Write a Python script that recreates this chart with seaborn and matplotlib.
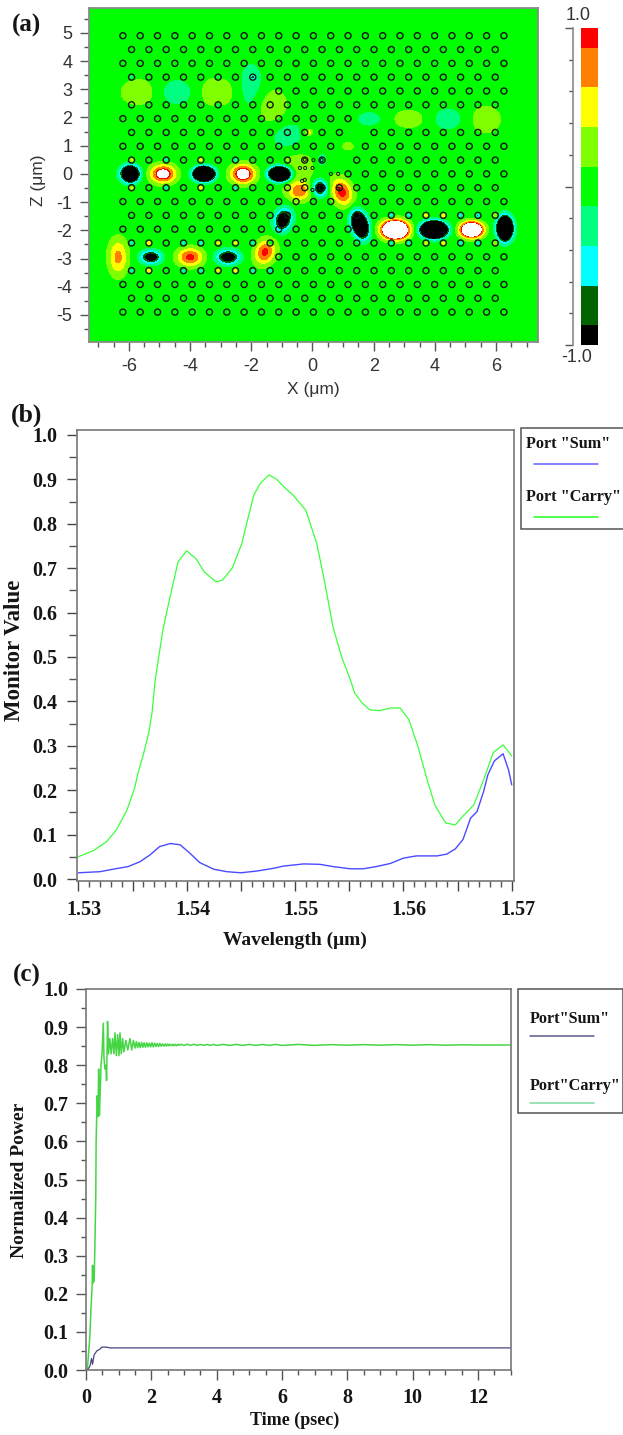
import numpy as np
import matplotlib
matplotlib.use('Agg')
import matplotlib.pyplot as plt
from matplotlib.cm import ScalarMappable
from matplotlib.colors import ListedColormap, BoundaryNorm
from matplotlib.lines import Line2D
from matplotlib.patches import Rectangle
from matplotlib.ticker import MultipleLocator, NullFormatter
from matplotlib.transforms import ScaledTranslation
import seaborn as sns

W, H = 623, 1435

# panel (a): field blobs (um)
blob_x = [-5.96, -4.88, -3.55, -2.27, -1.06, 0.24, 0.96, -0.42, -0.55, 0.3, -0.96,
          1.55, 2.7, 3.97, 5.2, 6.29,
          -6.35, -5.28, -4.0, -2.76, -1.55,
          -5.7, -4.42, -3.12, -2.0, -1.36, -0.8, -0.18,
          1.85, 3.15, 4.43, 5.67, 1.16]
blob_z = [0, 0, 0, 0, 0, -0.5, -0.64, -0.62, 0.2, 0.5, -1.63,
          -1.8, -1.98, -1.98, -1.98, -1.93,
          -2.95, -2.95, -2.95, -2.95, -2.77,
          2.9, 2.9, 2.9, 3.05, 2.38, 1.31, 1.5,
          1.95, 1.95, 1.95, 1.93, 0.98]
blob_amp = [-3, 1.25, -5, 1.3, -4, -1.3, 0.98, 0.75, 0.3, -0.35, -1.5,
            -3, 3, -6, 2.5, -4,
            0.7, -1.3, 0.95, -1.4, 0.95,
            0.3, -0.3, 0.3, -0.3, 0.3, -0.3, 0.2,
            -0.28, 0.28, -0.28, 0.28, 0.18]
blob_sx = [0.19, 0.27, 0.2, 0.26, 0.22, 0.18, 0.22, 0.25, 0.45, 0.12, 0.19,
           0.17, 0.27, 0.24, 0.23, 0.16,
           0.21, 0.23, 0.28, 0.25, 0.22,
           0.42, 0.42, 0.45, 0.33, 0.42, 0.42, 0.12,
           0.31, 0.37, 0.37, 0.37, 0.2]
blob_sz = [0.19, 0.21, 0.155, 0.22, 0.165, 0.2, 0.33, 0.22, 0.55, 0.18, 0.27,
           0.3, 0.2, 0.17, 0.17, 0.26,
           0.43, 0.165, 0.215, 0.175, 0.3,
           0.34, 0.34, 0.38, 0.66, 0.5, 0.45, 0.12,
           0.2, 0.24, 0.3, 0.37, 0.15]
blob_tilt = [0, 0, 0, 0, 0, 0, 20, 0, 0, 0, -15,
             15, 0, 0, 0, 0,
             0, 0, 0, 0, -20,
             0, 0, 0, 0, 10, 0, 0,
             0, 0, 0, 0, 0]

# little coloured dots in the holes next to the guides
spot_x = [-5.913, -5.913, -4.781, -4.781, -3.649, -3.649, -2.517, -2.517,
          2.577, 3.143, 3.709, 4.275, 4.841, 5.407, 5.973,
          2.577, 3.143, 3.709, 4.275, 4.841, 5.407, 5.973,
          -5.913, -5.347, -4.215, -3.649, -3.083, -2.517, -1.951, -1.385,
          -5.913, -5.347, -4.215, -3.649, -3.083, -2.517, -1.951, -1.385,
          -5.913, -3.083, -1.951, -3.083, -0.1]
spot_z = [0.49, -0.49, 0.49, -0.49, 0.49, -0.49, 0.49, -0.49,
          -1.47, -1.47, -1.47, -1.47, -1.47, -1.47, -1.47,
          -2.45, -2.45, -2.45, -2.45, -2.45, -2.45, -2.45,
          -2.45, -2.45, -2.45, -2.45, -2.45, -2.45, -2.45, -2.45,
          -3.43, -3.43, -3.43, -3.43, -3.43, -3.43, -3.43, -3.43,
          3.43, 3.43, 3.43, 2.45, 1.47]
spot_amp = [0.5, 0.5, -0.6, -0.6, 0.5, 0.5, -0.6, -0.6,
            -0.8, -0.6, 0.5, 0.5, -0.6, -0.8, 0.4,
            -0.8, -0.6, 0.5, 0.5, -0.6, -0.8, 0.4,
            -0.6, 0.5, -0.6, -0.6, 0.45, 0.45, -0.6, -0.6,
            -0.6, 0.5, -0.6, -0.6, 0.45, 0.45, -0.6, -0.6,
            -0.5, -0.5, -0.7, -0.5, 0.4]

# photonic crystal holes
row_z = [4.9, 4.41, 3.92, 3.43, 2.94, 2.45, 1.96, 1.47, 0.98, 0.49, 0,
         -0.49, -0.98, -1.47, -1.96, -2.45, -2.94, -3.43, -3.92, -4.41, -4.9]
odd_x = [-6.196, -5.63, -5.064, -4.498, -3.932, -3.366, -2.8, -2.234, -1.668, -1.102,
         -0.536, 0.03, 0.596, 1.162, 1.728, 2.294, 2.86, 3.426, 3.992, 4.558,
         5.124, 5.69, 6.256]
even_x = [-5.913, -5.347, -4.781, -4.215, -3.649, -3.083, -2.517, -1.951, -1.385, -0.819,
          -0.253, 0.313, 0.879, 1.445, 2.011, 2.577, 3.143, 3.709, 4.275, 4.841,
          5.407, 5.973]
small_x = [-0.41, -0.25, -0.34, -0.25, 0.0, 0.6, 0.84, -0.24, 0.03, 0.3, 0.0, 0.84]
small_z = [0.21, 0.5, -0.25, -0.21, 0.21, 0, 0, 0.21, 0.49, 0.49, -0.57, -0.53]
# (row z, from x, to x) stretches with no holes
gap_z = [2.94, 1.96, 0.98, 1.47, 0.49, 0, 0, -0.98, -1.96, -2.94]
gap_from = [-8, 1.3, 1.1, 1.4, 0.8, -8, -0.3, 1.1, 1.3, -8]
gap_to = [-1.2, 8, 1.2, 1.5, 1.0, -0.3, 1.1, 1.2, 8, -1.2]

field_levels = [-1, -0.875, -0.625, -0.375, -0.125, 0.125, 0.375, 0.625, 0.875, 1]
field_colors = ['#000000', '#006400', '#00ffff', '#00ff80', '#00ff00',
                '#80ff00', '#ffff00', '#ff8000', '#ff0000']
a_ticks_x = [-6, -4, -2, 0, 2, 4, 6]
a_ticks_z = [-5, -4, -3, -2, -1, 0, 1, 2, 3, 4, 5]

# panel (b)
carry_wl = [1.5300, 1.5314, 1.5326, 1.5335, 1.5345, 1.5352, 1.5355, 1.5360, 1.5365, 1.5368,
            1.5371, 1.5378, 1.5384, 1.5392, 1.5400, 1.5409, 1.5416, 1.5427, 1.5433, 1.5442,
            1.5451, 1.5455, 1.5462, 1.5468, 1.5476, 1.5483, 1.5491, 1.5498, 1.5510, 1.5517,
            1.5520, 1.5527, 1.5535, 1.5543, 1.5551, 1.5555, 1.5562, 1.5569, 1.5578, 1.5588,
            1.5597, 1.5605, 1.5613, 1.5622, 1.5629, 1.5639, 1.5648, 1.5654, 1.5665, 1.5674,
            1.5683, 1.5692, 1.5700]
carry_val = [0.05, 0.064, 0.084, 0.11, 0.156, 0.205, 0.238, 0.28, 0.329, 0.374,
             0.449, 0.56, 0.628, 0.714, 0.739, 0.72, 0.692, 0.669, 0.673, 0.70,
             0.756, 0.797, 0.865, 0.891, 0.91, 0.90, 0.88, 0.865, 0.83, 0.778,
             0.756, 0.673, 0.568, 0.50, 0.449, 0.419, 0.396, 0.381, 0.379, 0.385,
             0.385, 0.359, 0.302, 0.223, 0.167, 0.126, 0.122, 0.139, 0.167, 0.223,
             0.285, 0.302, 0.277]
sum_wl = [1.5300, 1.5320, 1.5332, 1.5346, 1.5357, 1.5366, 1.5375, 1.5385, 1.5394, 1.5403,
          1.5412, 1.5425, 1.5437, 1.5450, 1.5465, 1.5480, 1.5489, 1.5508, 1.5523, 1.5535,
          1.5551, 1.5563, 1.5575, 1.5588, 1.5600, 1.5612, 1.5631, 1.5640, 1.5648, 1.5655,
          1.5662, 1.5668, 1.5674, 1.5678, 1.5684, 1.5692, 1.5697, 1.5700]
sum_val = [0.014, 0.0165, 0.022, 0.028, 0.039, 0.054, 0.073, 0.08, 0.077, 0.058,
           0.037, 0.022, 0.0165, 0.014, 0.018, 0.024, 0.029, 0.034, 0.033, 0.028,
           0.023, 0.023, 0.028, 0.035, 0.047, 0.052, 0.052, 0.056, 0.068, 0.089,
           0.137, 0.152, 0.197, 0.235, 0.266, 0.282, 0.246, 0.212]
b_ticks_x = [1.53, 1.535, 1.54, 1.545, 1.55, 1.555, 1.56, 1.565, 1.57]
b_labels_x = ['1.53', '', '1.54', '', '1.55', '', '1.56', '', '1.57']
y_ticks = [0.0, 0.1, 0.2, 0.3, 0.4, 0.5, 0.6, 0.7, 0.8, 0.9, 1.0]

# panel (c)
carry_t = [0.04, 0.12, 0.15, 0.19, 0.20, 0.21, 0.22, 0.23, 0.24, 0.25, 0.27, 0.30, 0.31,
           0.33, 0.345, 0.367, 0.387, 0.41, 0.43, 0.46, 0.49, 0.53, 0.55, 0.58, 0.61, 0.63,
           0.66, 0.69, 0.73, 0.77, 0.815, 0.855, 0.887, 0.93, 0.97, 1.01, 1.04, 1.08, 1.12,
           1.16, 1.22, 1.28, 1.345, 1.4, 1.45, 1.5, 1.54, 1.58, 1.62, 1.66, 1.7, 1.74, 1.78,
           1.82, 1.86, 1.9, 1.94, 1.98, 2.02, 2.06, 2.1, 2.14, 2.18, 2.22, 2.26, 2.3, 2.34,
           2.38, 2.42, 2.46, 2.5, 2.54, 2.58, 2.62, 2.66, 2.7, 2.74, 2.78, 2.82, 2.86, 2.9,
           3.0, 3.1, 3.2, 3.3, 3.4, 3.5, 3.6, 3.7, 3.8, 3.9, 4.0, 4.2, 4.4, 4.6, 4.8, 5.0,
           5.2, 5.4, 5.6, 5.8, 6.0, 6.5, 7, 7.5, 8, 8.5, 9, 9.5, 10, 10.5, 11, 11.5, 12, 13]
carry_p = [0, 0.09, 0.157, 0.225, 0.275, 0.228, 0.27, 0.23, 0.265, 0.235, 0.318, 0.46, 0.6,
           0.675, 0.72, 0.665, 0.79, 0.668, 0.72, 0.80, 0.83, 0.91, 0.82, 0.79, 0.80, 0.76,
           0.915, 0.83, 0.87, 0.83, 0.87, 0.83, 0.885, 0.825, 0.88, 0.825, 0.885, 0.83, 0.87,
           0.835, 0.865, 0.84, 0.87, 0.84, 0.865, 0.845, 0.862, 0.846, 0.86, 0.846, 0.86, 0.847, 0.859,
           0.847, 0.859, 0.848, 0.858, 0.848, 0.859, 0.848, 0.858, 0.849, 0.857, 0.849, 0.857, 0.85, 0.856,
           0.85, 0.856, 0.85, 0.856, 0.851, 0.855, 0.851, 0.855, 0.851, 0.855, 0.851, 0.855, 0.852, 0.855,
           0.852, 0.855, 0.852, 0.855, 0.852, 0.8545, 0.852, 0.8545, 0.852, 0.8545, 0.852, 0.8545, 0.852, 0.8545, 0.852, 0.8545,
           0.852, 0.8545, 0.852, 0.8545, 0.852, 0.8545, 0.852, 0.854, 0.8525, 0.854, 0.8525, 0.854, 0.8525, 0.854, 0.8525, 0.8535, 0.853, 0.853]
sum_t = [0.04, 0.12, 0.17, 0.2, 0.25, 0.33, 0.43, 0.48, 0.63, 0.73, 0.887, 1.5, 13]
sum_p = [0, 0.01, 0.03, 0.015, 0.04, 0.05, 0.055, 0.06, 0.06, 0.058, 0.058, 0.058, 0.058]
c_ticks_x = [0, 2, 4, 6, 8, 10, 12]

SANS = 'Liberation Sans'
SERIF = 'Liberation Serif'
SPINE = '#777777'
INK = '#333333'


def px_axes(fig, left, top, right, bottom):
    return fig.add_axes([left / W, 1 - bottom / H, (right - left) / W, (bottom - top) / H])


def px_text(fig, x, y, s, **kw):
    kw.setdefault('ha', 'center')
    kw.setdefault('va', 'center')
    fig.text(x / W, 1 - y / H, s, **kw)


def style_axes(ax, color=SPINE, lw=1.2):
    for side in ax.spines:
        ax.spines[side].set_visible(True)
        ax.spines[side].set_color(color)
        ax.spines[side].set_linewidth(lw)


def make_field(xx, zz):
    field = np.zeros_like(xx)
    for x0, z0, amp, sx, sz, tilt in zip(blob_x, blob_z, blob_amp, blob_sx, blob_sz, blob_tilt):
        th = np.radians(tilt)
        u = (xx - x0) * np.cos(th) + (zz - z0) * np.sin(th)
        v = -(xx - x0) * np.sin(th) + (zz - z0) * np.cos(th)
        field += amp * np.exp(-0.5 * (u / sx) ** 2 - 0.5 * (v / sz) ** 2)
    for x0, z0, amp in zip(spot_x, spot_z, spot_amp):
        field += amp * np.exp(-0.5 * ((xx - x0) ** 2 + (zz - z0) ** 2) / 0.06 ** 2)
    return field


def hole_positions():
    hx, hz = [], []
    for i, z in enumerate(row_z):
        for x in (odd_x if i % 2 == 0 else even_x):
            skip = False
            for gz, g0, g1 in zip(gap_z, gap_from, gap_to):
                if gz == z and g0 <= x <= g1:
                    skip = True
            if not skip:
                hx.append(x)
                hz.append(z)
    return hx, hz


def panel_a(fig):
    ax = px_axes(fig, 88.5, 7.5, 538, 342)
    xs = np.linspace(-7.32, 7.37, 900)
    zs = np.linspace(-5.96, 5.9, 800)
    xx, zz = np.meshgrid(xs, zs)
    cmap = ListedColormap(field_colors)
    cmap.set_over('white')
    cmap.set_under('black')
    norm = BoundaryNorm(field_levels, 9)
    ax.contourf(xx, zz, make_field(xx, zz), levels=field_levels, cmap=cmap, norm=norm, extend='both')

    hx, hz = hole_positions()
    sns.scatterplot(x=hx, y=hz, ax=ax, s=19, facecolor='none', edgecolor='#151515', linewidth=1.0)
    sns.scatterplot(x=small_x, y=small_z, ax=ax, s=5, facecolor='none', edgecolor='#151515', linewidth=0.7)

    ax.set_xlim(-7.32, 7.37)
    ax.set_ylim(-5.96, 5.9)
    style_axes(ax, '#8a8a8a', 1.3)
    ax.set_xticks(a_ticks_x)
    ax.set_yticks(a_ticks_z)
    ax.xaxis.set_minor_locator(MultipleLocator(0.5))
    ax.yaxis.set_minor_locator(MultipleLocator(0.5))
    ax.tick_params(which='major', length=6.5, width=1, color='#555555', labelsize=13,
                   labelcolor=INK, pad=5)
    ax.tick_params(which='minor', length=3.5, width=1, color='#555555')
    for t in ax.get_xticklabels() + ax.get_yticklabels():
        t.set_fontfamily(SANS)
    ax.set_xlabel('')
    ax.set_ylabel('')
    px_text(fig, 313, 389, 'X (\u03bcm)', family=SANS, fontsize=12.5, color=INK)
    px_text(fig, 38, 180, 'Z (\u03bcm)', family=SANS, fontsize=12.5, color=INK, rotation=90)

    # colour bar and its separate scale
    cax = px_axes(fig, 581, 28, 597.7, 345)
    bar_cmap = ListedColormap(field_colors)
    cb = fig.colorbar(ScalarMappable(norm=BoundaryNorm(field_levels, 9), cmap=bar_cmap), cax=cax,
                      spacing='proportional')
    cb.set_ticks([])
    cb.minorticks_off()
    cb.outline.set_visible(False)
    sax = px_axes(fig, 572.7, 28, 574, 345)
    sax.set_ylim(-1, 1)
    sax.set_xticks([])
    sax.set_yticks([-1, 0, 1])
    sax.set_yticks([-0.8, -0.6, -0.4, -0.2, 0.2, 0.4, 0.6, 0.8], minor=True)
    sax.yaxis.set_major_formatter(NullFormatter())
    sax.tick_params(which='major', length=6, width=1, color='#555555')
    sax.tick_params(which='minor', length=3, width=1, color='#555555')
    for side in ['top', 'right', 'bottom']:
        sax.spines[side].set_visible(False)
    sax.spines['left'].set_color('#8a8a8a')
    sax.spines['left'].set_linewidth(1.2)
    px_text(fig, 578, 15, '1.0', family=SANS, fontsize=13, color=INK)
    px_text(fig, 577, 358, '-1.0', family=SANS, fontsize=13, color=INK)


def serif_ticks(ax, size=14.5):
    for t in ax.get_xticklabels() + ax.get_yticklabels():
        t.set_fontfamily(SERIF)
        t.set_fontweight('bold')
        t.set_fontsize(size)
        t.set_color('#151515')


def draw_legend(fig, box, entries):
    left, top, right, bottom = box
    fig.add_artist(Rectangle((left / W, 1 - bottom / H), (right - left) / W, (bottom - top) / H,
                             transform=fig.transFigure, facecolor='white', edgecolor='#555555',
                             linewidth=1.1))
    for label, text_x, text_y, x0, x1, line_y, color in entries:
        px_text(fig, text_x, text_y, label, ha='left', family=SERIF, weight='bold', fontsize=11.7,
                color='#151515')
        fig.add_artist(Line2D([x0 / W, x1 / W], [1 - line_y / H, 1 - line_y / H],
                              transform=fig.transFigure, color=color, lw=1.1))


def panel_b(fig):
    ax = px_axes(fig, 76.7, 430, 513.7, 881)
    sns.lineplot(x=carry_wl, y=carry_val, ax=ax, color='#3cff3c', lw=0.9, estimator=None, sort=False)
    sns.lineplot(x=sum_wl, y=sum_val, ax=ax, color='#4a4aff', lw=1.0, estimator=None, sort=False)
    ax.set_xlim(1.52985, 1.57018)
    ax.set_ylim(-0.0045, 1.011)
    style_axes(ax)
    ax.set_xticks(b_ticks_x)
    ax.set_xticklabels(b_labels_x)
    ax.set_yticks(y_ticks)
    ax.set_yticklabels(['%.1f' % v for v in y_ticks])
    ax.xaxis.set_minor_locator(MultipleLocator(0.001))
    ax.yaxis.set_minor_locator(MultipleLocator(0.05))
    ax.tick_params(which='major', length=7, width=1, color='#444444', pad=7)
    ax.tick_params(which='minor', length=4.3, width=1, color='#555555')
    ax.tick_params(axis='y', which='minor', length=6)
    serif_ticks(ax)
    # wavelength labels sit a little right of their ticks in the original
    shift = ScaledTranslation(6 / 100, 0, fig.dpi_scale_trans)
    for t in ax.get_xticklabels():
        t.set_transform(t.get_transform() + shift)
    px_text(fig, 295, 940, 'Wavelength (\u03bcm)', family=SERIF, weight='bold', fontsize=14, color='#151515')
    px_text(fig, 15, 650, 'Monitor Value', family=SERIF, weight='bold', fontsize=16.5, color='#151515',
            rotation=90)
    draw_legend(fig, (520.7, 428, 640, 529),
                [('Port "Sum"', 526, 444, 534, 598, 463.7, '#6060ff'),
                 ('Port "Carry"', 526, 497, 534, 598, 517, '#20ff20')])


def panel_c(fig):
    ax = px_axes(fig, 86, 989, 510.7, 1370)
    sns.lineplot(x=carry_t, y=carry_p, ax=ax, color='#45d645', lw=1.1, estimator=None, sort=False)
    sns.lineplot(x=sum_t, y=sum_p, ax=ax, color='#45457f', lw=0.9, estimator=None, sort=False)
    ax.set_xlim(0, 13)
    ax.set_ylim(0, 1)
    style_axes(ax)
    ax.set_xticks(c_ticks_x)
    ax.set_yticks(y_ticks)
    ax.set_yticklabels(['%.1f' % v for v in y_ticks])
    ax.xaxis.set_minor_locator(MultipleLocator(0.5))
    ax.yaxis.set_minor_locator(MultipleLocator(0.05))
    ax.tick_params(which='major', length=7, width=1, color='#555555', pad=6)
    ax.tick_params(which='minor', length=3.6, width=1, color='#555555')
    serif_ticks(ax)
    px_text(fig, 295, 1420, 'Time (psec)', family=SERIF, weight='bold', fontsize=13, color='#151515')
    px_text(fig, 20, 1180, 'Normalized Power', family=SERIF, weight='bold', fontsize=14, color='#151515',
            rotation=90)
    draw_legend(fig, (518, 989, 622.5, 1112.7),
                [('Port"Sum"', 530, 1019, 530, 594, 1036, '#5a5a88'),
                 ('Port"Carry"', 530, 1086, 530, 594, 1102.7, '#80d8a0')])


sns.set_theme(style='ticks')
plt.rcParams['font.family'] = [SERIF, 'DejaVu Sans']
plt.rcParams['axes.unicode_minus'] = False
fig = plt.figure(figsize=(W / 100, H / 100), dpi=100, facecolor='white')
panel_a(fig)
panel_b(fig)
panel_c(fig)
px_text(fig, 27, 25, '(a)', family=SERIF, weight='bold', fontsize=18, color='#151515')
px_text(fig, 27, 415, '(b)', family=SERIF, weight='bold', fontsize=18.5, color='#151515')
px_text(fig, 27, 975, '(c)', family=SERIF, weight='bold', fontsize=18, color='#151515')
fig.savefig('out.png', dpi=100)
